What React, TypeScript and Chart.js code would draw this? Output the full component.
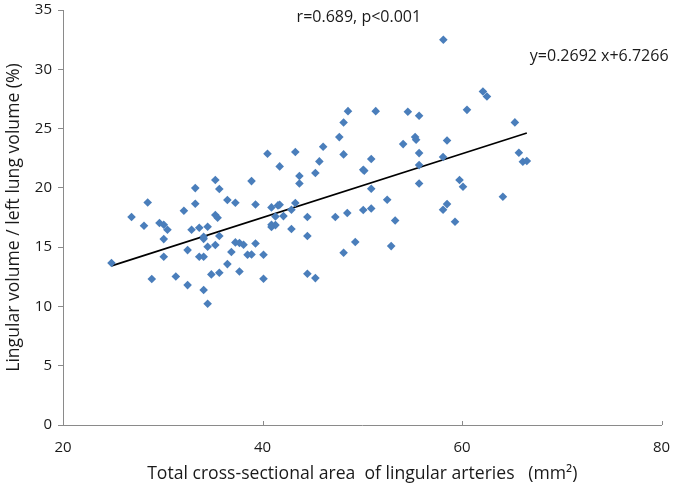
import React, { useEffect, useRef } from "react";
import { Chart, registerables } from "chart.js";

Chart.register(...registerables);

const xValues = [
  24.86, 26.87, 28.49, 28.12, 28.9, 29.67, 30.1, 30.47, 30.1, 30.1,
  31.31, 32.12, 32.49, 32.49, 32.89, 33.26, 33.26, 33.66, 33.66, 34.1,
  34.1, 34.1, 34.1, 34.5, 34.5, 34.5, 34.87, 35.27, 35.67, 35.27,
  35.5, 35.67, 35.27, 35.67, 36.48, 37.28, 36.88, 36.48, 37.69, 37.28,
  37.69, 38.1, 38.5, 38.9, 38.9, 39.3, 39.3,
  48.13, 47.7, 46.08, 43.29, 40.5, 48.13, 45.7, 41.72, 43.7, 45.3,
  43.7, 40.9, 41.55, 41.72, 43.29, 42.9, 41.3, 42.1, 44.5, 40.9,
  41.3, 40.9, 42.9, 44.5, 40.1, 40.1, 44.5, 45.3, 47.3, 48.5,
  48.13, 49.3, 50.1, 50.2, 50.9, 50.9, 50.1, 50.9, 52.5, 53.3,
  52.9, 54.1, 55.3, 55.4, 55.7, 55.7, 55.7, 58.1, 58.5, 58.1, 58.5,
  58.13, 48.57, 51.35, 54.57, 55.7, 60.5, 62.1, 62.5,
  65.3, 65.7, 66.1, 66.5, 59.75, 60.1, 64.1, 59.3,
];

const yValues = [
  13.66, 17.54, 18.77, 16.8, 12.31, 17.03, 16.89, 16.47, 15.68, 14.19,
  12.53, 18.07, 14.75, 11.8, 16.47, 19.98, 18.66, 16.64, 14.19, 15.88,
  15.7, 14.19, 11.38, 10.23, 16.72, 15.03, 12.7, 20.66, 19.9, 17.71,
  17.48, 15.94, 15.18, 12.84, 18.97, 18.74, 14.59, 13.57, 12.95, 15.4,
  15.35, 15.2, 14.36, 14.38, 20.57, 18.6, 15.31,
  25.51, 24.28, 23.47, 23.02, 22.88, 22.82, 22.23, 21.81, 21.0, 21.25,
  20.37, 18.35, 18.52, 18.58, 18.72, 18.15, 17.59, 17.62, 17.54, 16.89,
  16.86, 16.7, 16.53, 15.94, 14.36, 12.34, 12.76, 12.39, 17.54, 17.88,
  14.53, 15.43, 21.53, 21.44, 22.43, 19.92, 18.13, 18.26, 19.0, 17.25,
  15.09, 23.69, 24.28, 24.06, 22.93, 21.92, 20.37, 22.6, 24.0, 18.15, 18.63,
  32.49, 26.47, 26.47, 26.42, 26.08, 26.58, 28.13, 27.71,
  25.52, 22.96, 22.2, 22.26, 20.66, 20.09, 19.25, 17.14,
];

const trendX = [24.86, 66.5];
const trendY = [13.42, 24.63];

const xTicks = [20, 40, 60, 80];
const yTicks = [0, 5, 10, 15, 20, 25, 30, 35];

const corrLabel = "r=0.689, p<0.001";
const eqLabel = "y=0.2692 x+6.7266";
const xTitle = "Total cross-sectional area  of lingular arteries   (mm\u00B2)";
const yTitle = "Lingular volume / left lung volume (%)";

const FONT = "'Open Sans', 'DejaVu Sans', sans-serif";
const AXIS_COLOR = "#8a8a8a";
const TEXT_COLOR = "#1a1a1a";

export default function App() {
  const ref = useRef<HTMLCanvasElement | null>(null);

  useEffect(() => {
    if (!ref.current) return;
    const textPlugin = {
      id: "annot",
      afterDraw(chart: any) {
        const { ctx, scales, chartArea } = chart;
        ctx.save();
        ctx.strokeStyle = AXIS_COLOR;
        ctx.lineWidth = 1;
        xTicks.forEach((v) => {
          const px = Math.round(scales.x.getPixelForValue(v)) + 0.5;
          ctx.beginPath();
          ctx.moveTo(px, chartArea.bottom);
          ctx.lineTo(px, chartArea.bottom - 4);
          ctx.stroke();
        });
        ctx.fillStyle = TEXT_COLOR;
        ctx.textBaseline = "middle";
        ctx.font = `16px ${FONT}`;
        ctx.textAlign = "center";
        ctx.fillText(corrLabel, scales.x.getPixelForValue(49.66), scales.y.getPixelForValue(34.4));
        ctx.textAlign = "left";
        ctx.fillText(eqLabel, scales.x.getPixelForValue(66.8), scales.y.getPixelForValue(31.05));
        ctx.restore();
      },
    };

    const chart = new Chart(ref.current, {
      type: "scatter",
      data: {
        datasets: [
          {
            label: "data",
            data: xValues.map((x, i) => ({ x, y: yValues[i] })),
            pointStyle: "rectRot",
            pointRadius: 4.3,
            backgroundColor: "#4a7ebb",
            borderColor: "#4a7ebb",
            borderWidth: 0,
          },
          {
            type: "line",
            label: "trend",
            data: trendX.map((x, i) => ({ x, y: trendY[i] })),
            borderColor: "#000000",
            borderWidth: 1.6,
            pointRadius: 0,
            fill: false,
          },
        ],
      },
      options: {
        animation: false,
        responsive: false,
        maintainAspectRatio: false,
        layout: { padding: { top: 10, right: 13.5, left: 0, bottom: 0 } },
        plugins: { legend: { display: false }, tooltip: { enabled: false } },
        scales: {
          x: {
            type: "linear",
            min: 20,
            max: 80,
            afterBuildTicks: (axis: any) => {
              axis.ticks = xTicks.map((v) => ({ value: v }));
            },
            afterFit: (scale: any) => {
              scale.height = 65;
              scale.paddingLeft = 0;
              scale.paddingRight = 0;
            },
            grid: { display: true, drawOnChartArea: false, drawTicks: false, color: AXIS_COLOR },
            border: { color: AXIS_COLOR, width: 1 },
            ticks: { color: TEXT_COLOR, font: { size: 15, family: FONT }, padding: 14 },
            title: {
              display: true,
              text: xTitle,
              color: TEXT_COLOR,
              font: { size: 17.6, family: FONT },
              padding: { top: 0, bottom: 5 },
            },
          },
          y: {
            type: "linear",
            min: 0,
            max: 35,
            afterBuildTicks: (axis: any) => {
              axis.ticks = yTicks.map((v) => ({ value: v }));
            },
            afterFit: (scale: any) => {
              scale.width = 63;
              scale.paddingTop = 0;
              scale.paddingBottom = 0;
            },
            grid: { display: true, drawOnChartArea: false, drawTicks: true, tickLength: 5, color: AXIS_COLOR },
            border: { color: AXIS_COLOR, width: 1 },
            ticks: { color: TEXT_COLOR, font: { size: 15, family: FONT }, padding: 6 },
            title: {
              display: true,
              text: yTitle,
              color: TEXT_COLOR,
              font: { size: 17.6, family: FONT },
              padding: { top: 3, bottom: 0 },
            },
          },
        },
      },
      plugins: [textPlugin],
    } as any);
    return () => chart.destroy();
  }, []);

  return (
    <div style={{ position: "fixed", left: 0, top: 0, width: 675, height: 490, background: "#fff" }}>
      <canvas ref={ref} width={675} height={490} style={{ width: 675, height: 490 }} />
    </div>
  );
}
